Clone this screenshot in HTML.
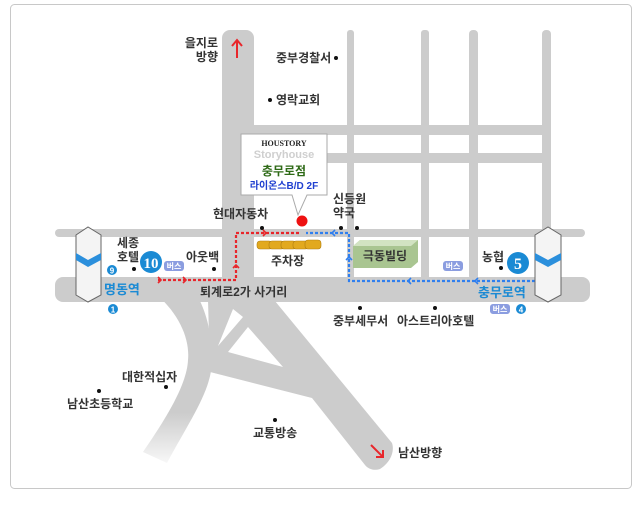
<!DOCTYPE html>
<html><head><meta charset="utf-8"><style>
body{margin:0;background:#fff;}
svg{display:block;font-family:"Liberation Sans","Noto Sans CJK KR",sans-serif;}
.t{font-size:12px;font-weight:bold;fill:#333;}
.b{font-size:13px;font-weight:bold;fill:#1a8ad4;}
</style></head><body>
<svg width="641" height="505" viewBox="0 0 641 505">
<defs>
<linearGradient id="fadeL" x1="0" y1="0" x2="0" y2="1"><stop offset="0.7" stop-color="#cccccc"/><stop offset="1" stop-color="#cccccc" stop-opacity="0.15"/></linearGradient>
</defs>
<rect x="10.5" y="4.5" width="621" height="484" rx="4" fill="#fff" stroke="#c8c8c8"/>
<!-- roads -->
<g fill="#cccccc">
<rect x="222" y="30" width="32" height="275" rx="8"/>
<rect x="347" y="30" width="7" height="250" rx="3"/>
<rect x="421" y="30" width="8" height="250" rx="3"/>
<rect x="469" y="30" width="9" height="250" rx="4"/>
<rect x="542" y="30" width="9" height="230" rx="4"/>
<rect x="254" y="125" width="293" height="10"/>
<rect x="327" y="153" width="220" height="10"/>
<rect x="55" y="229" width="530" height="8" rx="4"/>
<!-- lower roads -->
<path d="M157 295 C180 315 190 340 188 360 C187 385 165 420 143 452 L167 463 C190 420 212 390 212 360 C212 330 205 310 197 295 Z" fill="url(#fadeL)"/>
<path d="M205 295 L270 295 L392 443 C395 452 390 463 380 469 C374 471 368 469 365 465 L312 398 L210 372 L208 300 Z"/>
<rect x="55" y="277" width="535" height="25" rx="8"/>
</g>
<g fill="#fff">
<polygon points="233,309 243,317 218,346"/>
<polygon points="248,327 283,367 228,352"/>
</g>
<!-- red arrows -->
<g stroke="#e8262b" stroke-width="2" fill="none">
<line x1="237" y1="58" x2="237" y2="40"/><polyline points="232,46 237,40 242,46"/>
<line x1="371" y1="445" x2="383" y2="457"/><polyline points="376,457 383,457 383,450"/>
</g>
<!-- dashed routes -->
<g fill="none" stroke-width="2.2" stroke-dasharray="3,2">
<polyline points="158,280 236,280 236,233 300,233" stroke="#e8262b"/>
<polyline points="540,281 349,281 349,233 306,233" stroke="#2f7fef"/>
</g>
<g fill="none" stroke-width="1.6">
<polyline points="158,277 161,280 158,283" stroke="#e8262b"/>
<polyline points="183,277 186,280 183,283" stroke="#e8262b"/>
<polyline points="233,268 236,265 239,268" stroke="#e8262b"/>
<polyline points="263,230 266,233 263,236" stroke="#e8262b"/>
<polyline points="478,278 475,281 478,284" stroke="#2f7fef"/>
<polyline points="411,278 408,281 411,284" stroke="#2f7fef"/>
<polyline points="346,260 349,257 352,260" stroke="#2f7fef"/>
<polyline points="335,230 332,233 335,236" stroke="#2f7fef"/>
</g>
<!-- pillars -->
<g>
<polygon points="76,235 88,227 101,235 101,295 88,302 76,295" fill="#f4f4f4" stroke="#666"/>
<polygon points="76,253 88,260 101,253 101,260 88,267 76,260" fill="#2b8fdc"/>
<polygon points="535,235 548,227 561,235 561,295 548,302 535,295" fill="#f4f4f4" stroke="#666"/>
<polygon points="535,253 548,260 561,253 561,260 548,267 535,260" fill="#2b8fdc"/>
</g>
<!-- callout -->
<path d="M241 134 H327 V195 H307 L298 215 L292 195 H241 Z" fill="#fff" stroke="#aaa"/>
<text x="284" y="146" font-size="8" font-weight="bold" text-anchor="middle" fill="#222" font-family="Liberation Serif,serif">HOUSTORY</text>
<text x="284" y="158" font-size="11" font-weight="bold" text-anchor="middle" fill="#cfcfcf">Storyhouse</text>
<text x="284" y="175" font-size="12" font-weight="bold" text-anchor="middle" fill="#2e6a16">충무로점</text>
<text x="284" y="189" font-size="10" font-weight="bold" text-anchor="middle" fill="#1f3fd0">라이온스B/D 2F</text>
<circle cx="302" cy="221" r="5.5" fill="#ee1111"/>
<!-- cars -->
<g fill="#e2a91e" stroke="#b07d10" stroke-width="0.6">
<rect x="257" y="241" width="15" height="8" rx="3"/><rect x="269" y="241" width="15" height="8" rx="3"/><rect x="281" y="241" width="15" height="8" rx="3"/><rect x="293" y="241" width="15" height="8" rx="3"/><rect x="305" y="240" width="16" height="9" rx="3"/>
</g>
<!-- 극동빌딩 -->
<polygon points="353,246 360,240 418,240 418,262 411,268 353,268" fill="#a9c591"/>
<polygon points="353,246 360,240 418,240 411,246" fill="#d2e3c2"/>
<text x="385" y="260" class="t" text-anchor="middle" font-size="11">극동빌딩</text>
<!-- dots -->
<g fill="#111">
<circle cx="336" cy="58" r="2"/><circle cx="270" cy="100" r="2"/><circle cx="262" cy="228" r="2"/><circle cx="341" cy="228" r="2"/><circle cx="357" cy="228" r="2"/><circle cx="134" cy="269" r="2"/><circle cx="214" cy="269" r="2"/><circle cx="501" cy="268" r="2"/><circle cx="360" cy="308" r="2"/><circle cx="435" cy="308" r="2"/><circle cx="166" cy="387" r="2"/><circle cx="99" cy="391" r="2"/><circle cx="275" cy="420" r="2"/>
</g>
<!-- labels -->
<text class="t" x="218" y="47" text-anchor="end">을지로</text>
<text class="t" x="218" y="61" text-anchor="end">방향</text>
<text class="t" x="276" y="62">중부경찰서</text>
<text class="t" x="276" y="104">영락교회</text>
<text class="t" x="213" y="218">현대자동차</text>
<text class="t" x="333" y="203">신등원</text>
<text class="t" x="333" y="217">약국</text>
<text class="t" x="117" y="247">세종</text>
<text class="t" x="117" y="261">호텔</text>
<text class="t" x="186" y="261">아웃백</text>
<text class="t" x="271" y="265">주차장</text>
<text class="t" x="200" y="296">퇴계로2가 사거리</text>
<text class="t" x="482" y="261">농협</text>
<text class="t" x="333" y="325">중부세무서</text>
<text class="t" x="397" y="325">아스트리아호텔</text>
<text class="t" x="122" y="381">대한적십자</text>
<text class="t" x="67" y="408">남산초등학교</text>
<text class="t" x="253" y="437">교통방송</text>
<text class="t" x="398" y="457">남산방향</text>
<text class="b" x="104" y="294">명동역</text>
<text class="b" x="478" y="297">충무로역</text>
<!-- circles -->
<circle cx="112" cy="270" r="5" fill="#1a8ad4"/><text x="112" y="273.5" font-size="8" font-weight="bold" fill="#fff" text-anchor="middle">9</text>
<circle cx="113" cy="309" r="5" fill="#1a8ad4"/><text x="113" y="312.5" font-size="8" font-weight="bold" fill="#fff" text-anchor="middle">1</text>
<circle cx="521" cy="309" r="5" fill="#1a8ad4"/><text x="521" y="312.5" font-size="8" font-weight="bold" fill="#fff" text-anchor="middle">4</text>
<circle cx="151" cy="262" r="11" fill="#1a8ad4"/><text x="151" y="268" font-size="15" font-weight="bold" fill="#fff" text-anchor="middle" font-family="Liberation Serif,serif">10</text>
<circle cx="518" cy="263" r="11" fill="#1a8ad4"/><text x="518" y="269" font-size="16" font-weight="bold" fill="#fff" text-anchor="middle" font-family="Liberation Serif,serif">5</text>
<!-- bus badges -->
<g font-size="8" font-weight="bold" fill="#fff" text-anchor="middle">
<rect x="164" y="261" width="20" height="10" rx="3" fill="#8b9de0"/><text x="174" y="269">버스</text>
<rect x="443" y="261" width="20" height="10" rx="3" fill="#8b9de0"/><text x="453" y="269">버스</text>
<rect x="490" y="304" width="20" height="10" rx="3" fill="#8b9de0"/><text x="500" y="312">버스</text>
</g>
</svg>
</body></html>
